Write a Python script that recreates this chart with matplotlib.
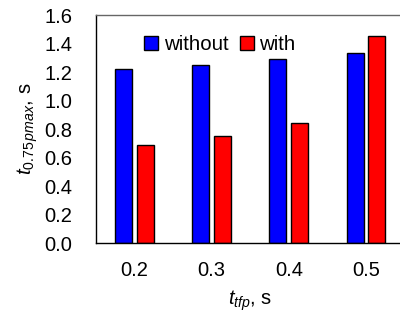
import numpy as np
import matplotlib
matplotlib.use('Agg')
import matplotlib.pyplot as plt

plt.rcParams['font.family'] = ['Liberation Sans', 'DejaVu Sans']
plt.rcParams['mathtext.fontset'] = 'custom'
plt.rcParams['mathtext.rm'] = 'Liberation Sans'
plt.rcParams['mathtext.it'] = 'Liberation Sans:italic'

kategorie = ['0.2', '0.3', '0.4', '0.5']
bez = [1.22, 1.25, 1.29, 1.33]
z = [0.69, 0.75, 0.84, 1.45]
etykiety_y = ['0.0', '0.2', '0.4', '0.6', '0.8', '1.0', '1.2', '1.4', '1.6']

fig = plt.figure(figsize=(4, 3.2), dpi=100)
ax = fig.add_axes([0.24, 0.2406, 0.771, 0.7125])

x = np.arange(len(kategorie))
szer = 0.22
ax.bar(x - 0.14, bez, szer, color='#0000ff', edgecolor='black', linewidth=1, label='without')
ax.bar(x + 0.14, z, szer, color='#ff0000', edgecolor='black', linewidth=1, label='with')

ax.set_xlim(-0.5, 3.5)
ax.set_ylim(0, 1.6)
ax.set_xticks(x)
ax.set_xticklabels(kategorie)
ax.set_yticks(np.arange(0, 1.61, 0.2))
ax.set_yticklabels(etykiety_y)
ax.tick_params(axis='both', length=0, labelsize=14.5)
ax.tick_params(axis='y', pad=17)
ax.tick_params(axis='x', pad=13)

for s in ax.spines.values():
    s.set_color('black')
    s.set_linewidth(1)
ax.spines['top'].set_color('#666666')

ax.set_ylabel(r'$t_{0.75\,pmax}$, s', fontsize=14.5, labelpad=3)
ax.set_xlabel(r'$t_{tfp}$, s', fontsize=14.5, labelpad=6)

ax.legend(loc='center left', bbox_to_anchor=(0.156, 0.871), frameon=False,
          ncol=2, fontsize=14.8, handlelength=0.68, handleheight=0.68,
          handletextpad=0.27, columnspacing=0.55, borderpad=0, borderaxespad=0)

fig.savefig('out.png', dpi=100)
